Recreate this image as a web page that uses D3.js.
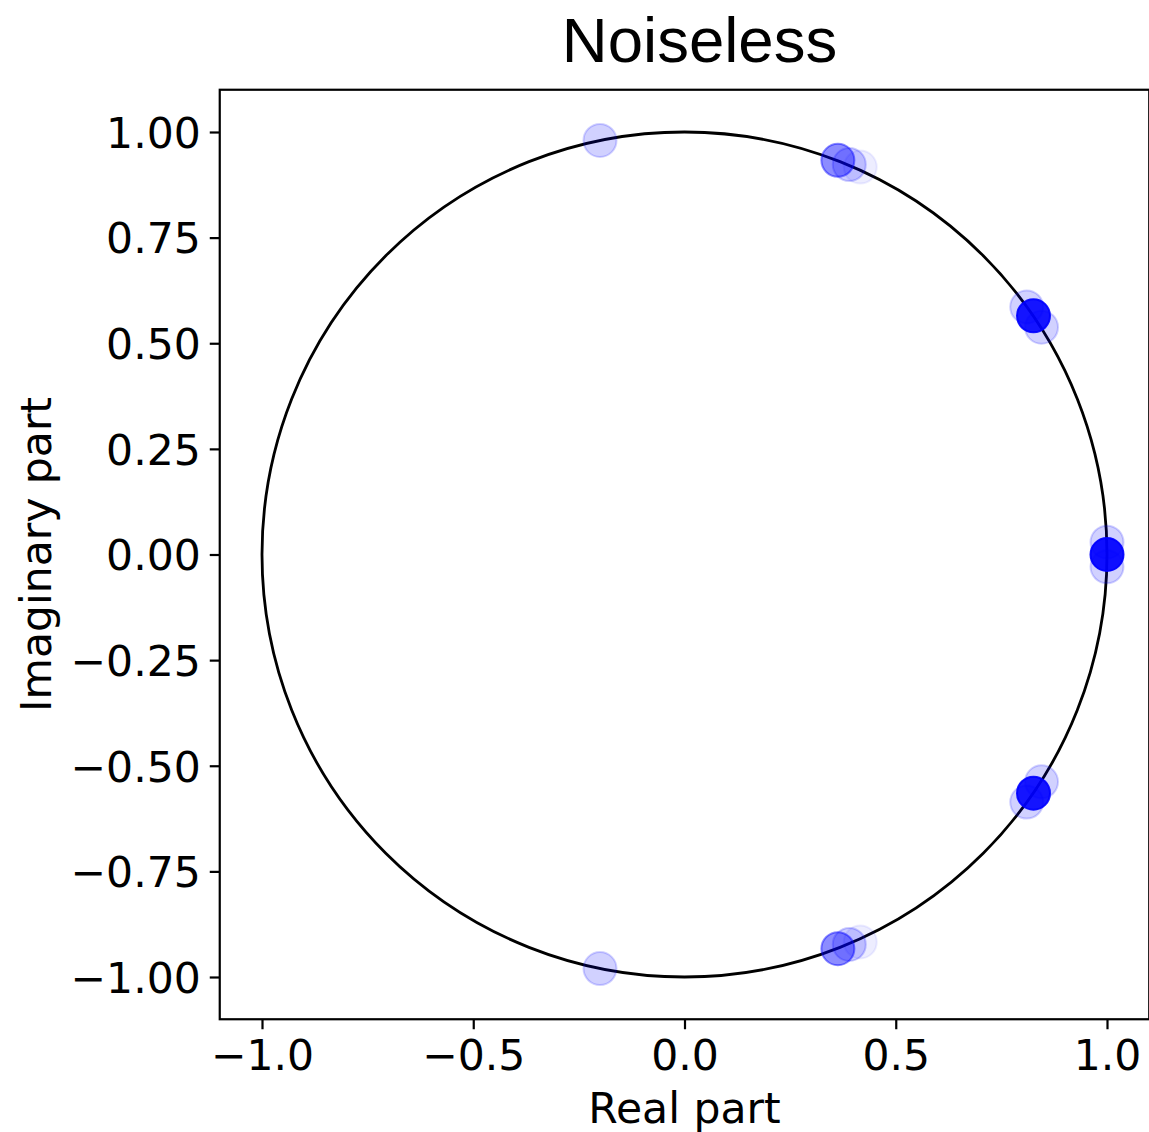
<!DOCTYPE html>
<html>
<head>
<meta charset="utf-8">
<script src="https://cdn.jsdelivr.net/npm/d3@7"></script>
<style>
  html, body { margin: 0; padding: 0; background: #fff; }
  svg { display: block; }
</style>
</head>
<body>
<svg id="chart" width="1149" height="1132"></svg>
<script>
// ---- data ----
const title = "Noiseless";
const xLabel = "Real part";
const yLabel = "Imaginary part";
const xTicks = [-1.0, -0.5, 0.0, 0.5, 1.0];
const yTicks = [-1.0, -0.75, -0.5, -0.25, 0.0, 0.25, 0.5, 0.75, 1.0];
const xDomain = [-1.1, 1.1];
const yDomain = [-1.1, 1.1];

// eigenvalue estimates (real part, imaginary part) and their weights (shown as opacity)
const realPart = [ 1.000, 1.000, 1.000, 0.826, 0.810, 0.845, 0.363, 0.390, 0.416, -0.200,
                   0.826, 0.810, 0.845, 0.363, 0.390, 0.416, -0.200];
const imagPart = [ 0.000, 0.029, -0.029, 0.565, 0.586, 0.538, 0.933, 0.923, 0.917, 0.980,
                  -0.565, -0.586, -0.538, -0.933, -0.923, -0.917, -0.980];
const weight   = [ 0.93, 0.18, 0.18, 0.90, 0.18, 0.18, 0.45, 0.20, 0.07, 0.18,
                   0.90, 0.18, 0.18, 0.45, 0.20, 0.07, 0.18];

// ---- layout ----
const svg = d3.select("#chart");
const plotLeft = 219.75, plotTop = 89.75, plotSize = 929.5;
const x = d3.scaleLinear().domain(xDomain).range([plotLeft, plotLeft + plotSize]);
const y = d3.scaleLinear().domain(yDomain).range([plotTop + plotSize, plotTop]);

const tickFont = "'DejaVu Sans', sans-serif";
const fs = 42.5;

// unit circle
svg.append("circle")
  .attr("cx", x(0)).attr("cy", y(0))
  .attr("r", x(1) - x(0))
  .attr("fill", "none")
  .attr("stroke", "#000")
  .attr("stroke-width", 2.8);

// points
const pts = realPart.map((r, i) => ({ r, im: imagPart[i], w: weight[i] }));
svg.append("g").selectAll("circle").data(pts).join("circle")
  .attr("cx", d => x(d.r))
  .attr("cy", d => y(d.im))
  .attr("r", 16.5)
  .attr("fill", "blue")
  .attr("fill-opacity", d => d.w)
  .attr("stroke", "blue")
  .attr("stroke-opacity", d => d.w)
  .attr("stroke-width", 2);

// axes
const xAxis = d3.axisBottom(x).tickValues(xTicks).tickFormat(d3.format(".1f"))
  .tickSizeInner(10).tickSizeOuter(0).tickPadding(9);
const yAxis = d3.axisLeft(y).tickValues(yTicks).tickFormat(d3.format(".2f"))
  .tickSizeInner(10).tickSizeOuter(0).tickPadding(9);

const gx = svg.append("g").attr("transform", `translate(0,${plotTop + plotSize})`).call(xAxis);
const gy = svg.append("g").attr("transform", `translate(${plotLeft},0)`).call(yAxis);
[gx, gy].forEach(g => {
  g.select(".domain").remove();
  g.selectAll(".tick line").attr("stroke", "#000").attr("stroke-width", 2.2);
  g.selectAll(".tick text").attr("fill", "#000")
    .style("font-family", tickFont).style("font-size", fs + "px");
});
gx.selectAll(".tick text").attr("dy", "0.74em");
gy.selectAll(".tick text").attr("dy", "0.36em");

// frame
svg.append("rect")
  .attr("x", plotLeft).attr("y", plotTop).attr("width", plotSize).attr("height", plotSize)
  .attr("fill", "none").attr("stroke", "#000").attr("stroke-width", 2.2);

// labels
svg.append("text")
  .attr("x", x(0)).attr("y", 1123)
  .attr("text-anchor", "middle")
  .style("font-family", tickFont).style("font-size", fs + "px")
  .text(xLabel);

svg.append("text")
  .attr("transform", `translate(51,${y(0)}) rotate(-90)`)
  .attr("text-anchor", "middle")
  .style("font-family", tickFont).style("font-size", fs + "px")
  .text(yLabel);

svg.append("text")
  .attr("x", 699.5).attr("y", 62)
  .attr("text-anchor", "middle")
  .style("font-family", "'Liberation Sans', Arial, sans-serif").style("font-size", "63.5px")
  .text(title);
</script>
</body>
</html>
